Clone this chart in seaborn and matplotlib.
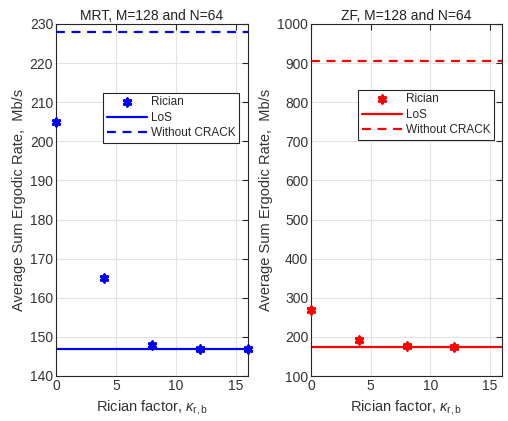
import numpy as np
import pandas as pd
import matplotlib
matplotlib.use("Agg")
import matplotlib.pyplot as plt
import seaborn as sns

# Rician factor kappa_{r,b}
kappa_mrt = [0, 4, 8, 12, 16]
rate_mrt = [205, 165, 148, 147, 147]
los_mrt = 147
nocrack_mrt = 228

kappa_zf = [0, 4, 8, 12]
rate_zf = [270, 191, 177, 175]
los_zf = 175
nocrack_zf = 905

sns.set_style("whitegrid")
plt.rcParams['font.family'] = ['Liberation Sans', 'DejaVu Sans']
plt.rcParams['mathtext.fontset'] = 'custom'
plt.rcParams['mathtext.it'] = 'Liberation Sans:italic'
plt.rcParams['mathtext.rm'] = 'Liberation Sans'

fig = plt.figure(figsize=(5.08, 4.21), dpi=100)
W, H = 508, 421
ax1 = fig.add_axes([56 / W, 1 - 376 / H, (248 - 56) / W, (376 - 24) / H])
ax2 = fig.add_axes([311 / W, 1 - 376 / H, (502 - 311) / W, (376 - 24) / H])

star = (6, 2, 0)


def panel(ax, kappa, rate, los, nocrack, color, title, ylim, yticks, leg_bbox):
    df = pd.DataFrame({"kappa": kappa, "rate": rate})
    ax.axhline(los, color=color, lw=1.6, label="LoS", zorder=2)
    ax.axhline(nocrack, color=color, lw=1.6, ls=(0, (4, 3)), label="Without CRACK", zorder=2)
    sns.scatterplot(data=df, x="kappa", y="rate", ax=ax, marker=star, s=26,
                    color=color, edgecolor=color, linewidth=2.2, label="Rician",
                    zorder=3, clip_on=False)
    ax.set_xlim(0, 16)
    ax.set_ylim(*ylim)
    ax.set_xticks([0, 5, 10, 15])
    ax.set_yticks(yticks)
    ax.set_title(title, fontsize=10, pad=3, color="#222222")
    ax.set_xlabel(r"Rician factor, $\kappa_{\mathrm{r,b}}$", fontsize=10.5, color="#333333")
    ax.set_ylabel("Average Sum Ergodic Rate,  Mb/s", fontsize=10.5, color="#333333", labelpad=3)
    ax.grid(True, color="#e3e3e3", lw=0.8)
    for s in ax.spines.values():
        s.set_color("#262626")
        s.set_linewidth(0.8)
    ax.tick_params(direction="in", length=4, width=0.8, colors="#262626",
                   labelsize=10, top=True, right=True, pad=2,
                   labelcolor="#333333")
    handles, labels = ax.get_legend_handles_labels()
    order = [labels.index(l) for l in ["Rician", "LoS", "Without CRACK"]]
    leg = ax.legend([handles[i] for i in order], [labels[i] for i in order],
                    loc="lower left", bbox_to_anchor=leg_bbox,
                    bbox_transform=fig.transFigure, fontsize=8.5,
                    frameon=True, fancybox=False, edgecolor="#262626",
                    framealpha=1, borderpad=0.3, labelspacing=0.3,
                    handlelength=3.4, handletextpad=0.35, borderaxespad=0)
    leg.get_frame().set_linewidth(0.8)


panel(ax1, kappa_mrt, rate_mrt, los_mrt, nocrack_mrt, "#0000ff",
      "MRT, M=128 and N=64", (140, 230), np.arange(140, 231, 10),
      (103 / W, 1 - 143 / H))
panel(ax2, kappa_zf, rate_zf, los_zf, nocrack_zf, "#ff0000",
      "ZF, M=128 and N=64", (100, 1000), np.arange(100, 1001, 100),
      (358 / W, 1 - 140 / H))

fig.savefig("out.png", dpi=100)
